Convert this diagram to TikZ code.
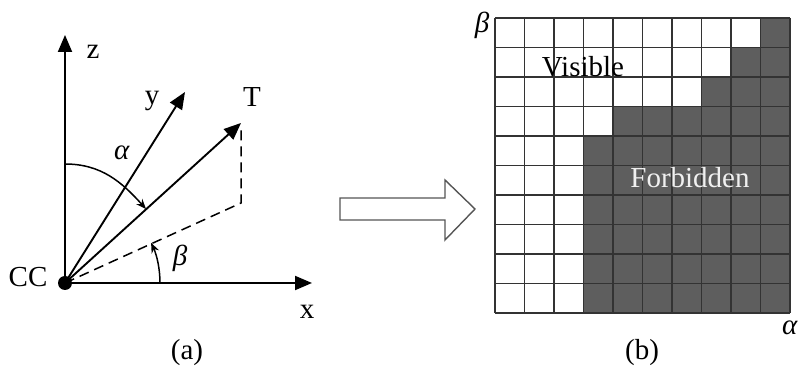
\documentclass[tikz,border=0pt]{standalone}
\usepackage{fontspec}
\setmainfont{Liberation Serif}
\usetikzlibrary{arrows.meta}
\definecolor{darkcell}{HTML}{5E5E5E}
\definecolor{gridline}{HTML}{333333}
\definecolor{outline}{HTML}{555555}
\tikzset{
  lbl/.style={font=\fontsize{29}{33}\selectfont, inner sep=0pt},
  axis/.style={line width=1.9pt, -{Triangle[length=17pt,width=14pt]}},
  arcarrow/.style={line width=1.5pt, -{Stealth[length=10pt,width=8pt]}},
  dashline/.style={line width=1.5pt, dash pattern=on 10pt off 6pt},
  cellfill/.style={fill=darkcell},
  gridstyle/.style={draw=gridline, line width=1.2pt},
  bigarrow/.style={draw=outline, line width=1.4pt, fill=white}
}
\begin{document}
\begin{tikzpicture}[x=1pt,y=1pt]
\useasboundingbox (0,0) rectangle (798,369);
% ----- (a) -----
\coordinate (O) at (65,86);
\coordinate (ztip) at (65,334);
\coordinate (xtip) at (312,86);
\coordinate (ytip) at (185,277);
\coordinate (Ttip) at (241,246);
\coordinate (D) at (241,166);
\coordinate (Dtop) at (241,241);
\coordinate (astart) at (65,205);
\coordinate (aend) at (146,160);
\coordinate (bstart) at (160,86);
\draw[axis] (O) -- (ztip);
\draw[axis] (O) -- (xtip);
\draw[axis] (O) -- (ytip);
\draw[axis] (O) -- (Ttip);
\draw[dashline] (O) -- (D) -- (Dtop);
\draw[arcarrow] (astart) to[out=0,in=132] (aend);
\draw[arcarrow] (bstart) arc[start angle=0,end angle=25,radius=95];
\fill (O) circle[radius=7];
\node[lbl] (lz) at (93,317) {z};
\node[lbl] (ly) at (152,268) {y};
\node[lbl] (lT) at (252,272) {T};
\node[lbl] (lCC) at (28,92) {CC};
\node[lbl] (lx) at (307,57) {x};
\node[lbl] (lalpha) at (122,216) {\textit{α}};
\node[lbl] (lbeta) at (180,111) {\textit{β}};
\node[lbl] (la) at (187,16) {(a)};
% ----- arrow -----
\draw[bigarrow] (340,171) -- (445,171) -- (445,189) -- (475,160) -- (445,129) -- (445,149) -- (340,149) -- cycle;
% ----- (b) grid -----
\begin{scope}[shift={(495,351)}, x=29.5pt, y=-29.5pt]
  \fill[cellfill] (9,0) -- (10,0) -- (10,10) -- (3,10) -- (3,4) -- (4,4) -- (4,3) -- (7,3) -- (7,2) -- (8,2) -- (8,1) -- (9,1) -- cycle;
  \foreach \i in {0,...,10} {
    \draw[gridstyle] (\i,0) -- (\i,10);
    \draw[gridstyle] (0,\i) -- (10,\i);
  }
\end{scope}
\node[lbl] (gbeta) at (482,344) {\textit{β}};
\node[lbl] (galpha) at (790,41) {\textit{α}};
\node[lbl] (vis) at (583,302) {Visible};
\node[lbl, text=white!94!black] (forb) at (690,191) {Forbidden};
\node[lbl] (lb) at (642,16) {(b)};
\end{tikzpicture}
\end{document}
